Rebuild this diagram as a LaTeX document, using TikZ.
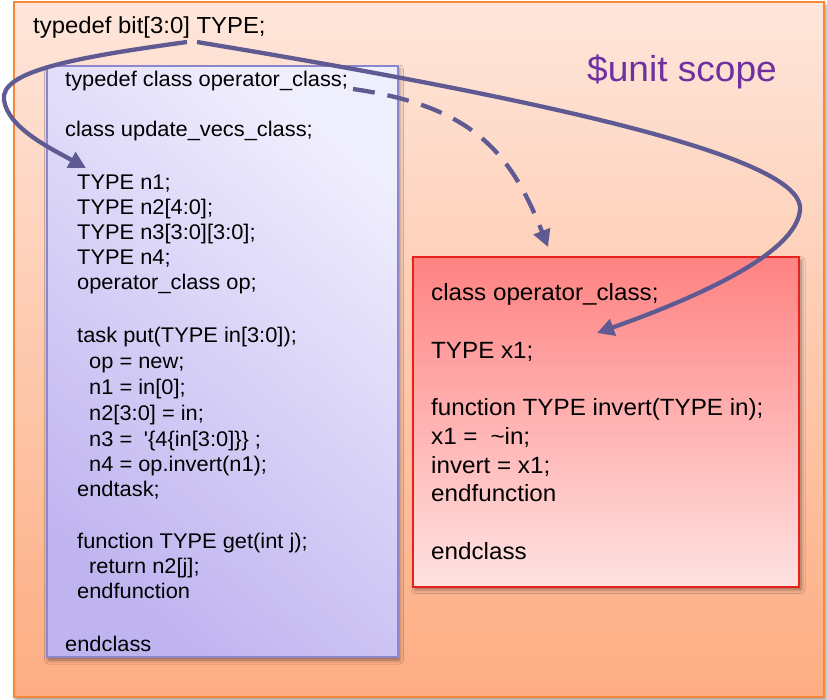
\documentclass[tikz,border=0pt]{standalone}
\usepackage{fontspec}
\setmainfont{Liberation Sans}[Ligatures=TeXOff, FakeStretch=1.03]
\usetikzlibrary{arrows.meta,shadows.blur}

\definecolor{scopeedge}{HTML}{F5883A}
\definecolor{scopetop}{HTML}{FEE6DB}
\definecolor{scopebot}{HTML}{FDAD82}
\definecolor{updedge}{HTML}{8C86CC}
\definecolor{updlight}{HTML}{EFEEFD}
\definecolor{upddark}{HTML}{C0B4F0}
\definecolor{opedge}{HTML}{E8211B}
\definecolor{optop}{HTML}{FF8282}
\definecolor{opbot}{HTML}{FFE2E2}
\definecolor{linkc}{HTML}{5F5A92}
\definecolor{unitpurple}{HTML}{7030A0}

\begin{document}
\begin{tikzpicture}[x=1pt,y=-1pt,
  code/.style={anchor=base west, inner sep=0pt, font=\fontsize{21.2}{25}\selectfont},
  opcode/.style={anchor=base west, inner sep=0pt, font=\fontsize{23.5}{28.7}\selectfont},
  boxshadow/.style={blur shadow={shadow xshift=2pt, shadow yshift=-3pt,
      shadow blur radius=4pt, shadow opacity=45}},
  scopebox/.style={draw=scopeedge, line width=2pt, top color=scopetop,
      bottom color=scopebot, anchor=north west, inner sep=0pt, boxshadow},
  classbox/.style={draw=updedge, line width=2pt, top color=updlight,
      bottom color=upddark, shading angle=-40, anchor=north west,
      inner sep=0pt, boxshadow},
  opbox/.style={draw=opedge, line width=2pt, top color=optop,
      bottom color=opbot, anchor=north west, inner sep=0pt, boxshadow},
  link/.style={draw=linkc, line width=4.3pt,
      -{Triangle[length=17pt,width=17pt]}},
  dashlink/.style={link, dash pattern=on 22pt off 13pt}]

\useasboundingbox (0,0) rectangle (827,700);

% enclosing $unit scope
\node[scopebox, minimum width=810pt, minimum height=694.5pt] (scope) at (13,1.5) {};
% class update_vecs_class
\node[classbox, minimum width=351pt, minimum height=591pt] (upd) at (45.5,65) {};
% class operator_class
\node[opbox, minimum width=386pt, minimum height=329pt] (op) at (412,256.5) {};

\node[anchor=base west, inner sep=0pt, font=\fontsize{23.2}{27}\selectfont]
  (tdef) at (33,33.5) {typedef bit[3:0] TYPE;};

% scope label
\node[anchor=base west, inner sep=0pt, font=\fontsize{36}{40}\selectfont,
  text=unitpurple] (unit) at (587,82) {\$unit scope};

% body of update_vecs_class
\node[code] (u1)  at (65,87)    {typedef class operator\_class;};
\node[code] (u2)  at (65,137)   {class update\_vecs\_class;};
\node[code] (u3)  at (77,190)   {TYPE n1;};
\node[code] (u4)  at (77,214.5) {TYPE n2[4:0];};
\node[code] (u5)  at (77,239.5) {TYPE n3[3:0][3:0];};
\node[code] (u6)  at (77,264.5) {TYPE n4;};
\node[code] (u7)  at (77,289.5) {operator\_class op;};
\node[code] (u8)  at (77,343)   {task put(TYPE in[3:0]);};
\node[code] (u9)  at (89,369)   {op = new;};
\node[code] (u10) at (89,395)   {n1 = in[0];};
\node[code] (u11) at (89,420)   {n2[3:0] = in;};
\node[code] (u12) at (89,446)   {n3 =\hspace{0.55em}'\{4\{in[3:0]\}\} ;};
\node[code] (u13) at (89,471.5) {n4 = op.invert(n1);};
\node[code] (u14) at (77,496.5) {endtask;};
\node[code] (u15) at (77,548)   {function TYPE get(int j);};
\node[code] (u16) at (89,573)   {return n2[j];};
\node[code] (u17) at (77,598)   {endfunction};
\node[code] (u18) at (65,651)   {endclass};

% body of operator_class
\node[opcode] (o1) at (431,301)   {class operator\_class;};
\node[opcode] (o2) at (431,358.4) {TYPE x1;};
\node[opcode] (o3) at (431,415.8) {function TYPE invert(TYPE in);};
\node[opcode] (o4) at (431,444.5) {x1 =\hspace{0.55em}\textasciitilde in;};
\node[opcode] (o5) at (431,473.2) {invert = x1;};
\node[opcode] (o6) at (431,501.9) {endfunction};
\node[opcode] (o7) at (431,559.3) {endclass};

% connector end points
\coordinate (typeL) at (187,42);
\coordinate (typeR) at (197,42);
\coordinate (n1tip) at (86,168);
\coordinate (x1tip) at (597,333);
\coordinate (fwdS)  at (353,89);
\coordinate (fwdE)  at (548,247);

% uses of TYPE
\draw[link] (typeL) .. controls (70,58) and (0,72) .. (4,100)
                    .. controls (8,128) and (50,148) .. (n1tip);
\draw[link] (typeR) .. controls (620,112) and (805,165) .. (800,210)
                    .. controls (796,255) and (690,300) .. (x1tip);
% forward typedef resolved later
\draw[dashlink] (fwdS) .. controls (470,106) and (510,150) .. (fwdE);

\end{tikzpicture}
\end{document}
